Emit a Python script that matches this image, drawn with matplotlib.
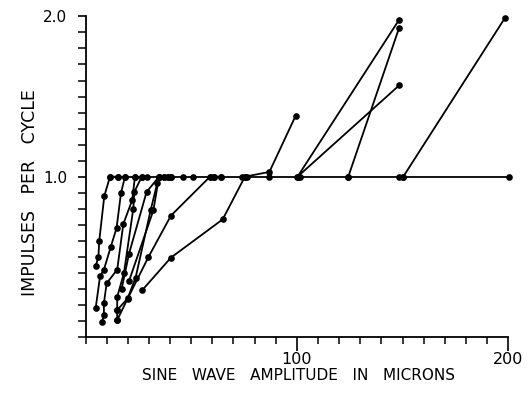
import matplotlib
matplotlib.use("Agg")
import matplotlib.pyplot as plt
from matplotlib.ticker import MultipleLocator, FixedLocator

# Each fibre series: amplitude (microns) and impulses per cycle
s1_x = [4.8, 6.1, 6.5, 8.9, 11.6, 15.2]
s1_y = [0.44, 0.50, 0.60, 0.88, 1.0, 1.0]
s2_x = [4.8, 6.9, 8.7, 11.9, 14.7, 16.8, 18.7]
s2_y = [0.18, 0.38, 0.42, 0.56, 0.68, 0.90, 1.0]
s3_x = [7.9, 8.7, 8.7, 10.0, 15.0, 17.9, 22.1, 23.4]
s3_y = [0.095, 0.14, 0.21, 0.335, 0.42, 0.705, 0.855, 1.0]
s4_x = [15.0, 15.0, 15.0, 18.2, 22.6, 23.1, 26.6]
s4_y = [0.106, 0.168, 0.25, 0.40, 0.80, 0.905, 1.0]
s5_x = [15.0, 19.9, 23.7, 30.8, 34.0, 37.3]
s5_y = [0.168, 0.24, 0.37, 0.79, 0.963, 1.0]
s6_x = [20.6, 32.1, 34.8, 39.2]
s6_y = [0.35, 0.79, 1.0, 1.0]
s7_x = [17.1, 20.6, 28.9, 34.8, 40.3]
s7_y = [0.30, 0.52, 0.905, 1.0, 1.0]
sa_x = [26.9, 40.4, 64.9, 75.4, 87.0, 99.4]
sa_y = [0.293, 0.495, 0.734, 1.0, 1.03, 1.38]
sb_x = [15.0, 20.0, 29.7, 40.4, 58.9, 60.9, 64.0]
sb_y = [0.106, 0.241, 0.497, 0.757, 1.0, 1.0, 1.0]
r2_x = [100.3, 148.4]
r2_y = [1.0, 1.98]
r3_x = [100.3, 148.4]
r3_y = [1.0, 1.57]
r4_x = [124.3, 148.4]
r4_y = [1.0, 1.93]
r5_x = [150.3, 198.4]
r5_y = [1.0, 1.99]
plateau_x = [11.6, 15.2, 18.7, 23.4, 26.6, 28.9, 34.8, 37.3, 39.2, 40.3, 46.2,
             51.0, 59.3, 60.9, 64.0, 73.9, 75.4, 76.5, 86.9, 99.9, 101.5,
             124.3, 148.2, 150.3, 200.3]
plateau_y = [1.0] * len(plateau_x)

series = [(s1_x, s1_y), (s2_x, s2_y), (s3_x, s3_y), (s4_x, s4_y),
          (s5_x, s5_y), (s6_x, s6_y), (s7_x, s7_y), (sa_x, sa_y),
          (sb_x, sb_y), (r2_x, r2_y), (r3_x, r3_y), (r4_x, r4_y),
          (r5_x, r5_y), (plateau_x, plateau_y)]

x_major = [100, 200]
y_major = [1.0, 2.0]
y_labels = ["1.0", "2.0"]

fig = plt.figure(figsize=(5.30, 3.96), dpi=100)
ax = fig.add_axes([85.5 / 530, 59 / 396, (508.3 - 85.5) / 530, (337 - 16.4) / 396])

for xs, ys in series:
    ax.plot(xs, ys, color="black", lw=1.3, marker="o", ms=4.8,
            markeredgewidth=0, clip_on=False)

ax.set_xlim(0, 200)
ax.set_ylim(0, 2.0)
for s in ["top", "right"]:
    ax.spines[s].set_visible(False)
ax.spines["left"].set_linewidth(1.3)
ax.spines["bottom"].set_linewidth(1.3)

ax.xaxis.set_major_locator(FixedLocator(x_major))
ax.xaxis.set_minor_locator(MultipleLocator(10))
ax.yaxis.set_major_locator(FixedLocator(y_major))
ax.set_yticklabels(y_labels)
ax.yaxis.set_minor_locator(MultipleLocator(0.1))
ax.tick_params(axis="x", which="major", length=10, width=1.2, pad=0.5, labelsize=11.5)
ax.tick_params(axis="x", which="minor", length=5, width=1.1)
ax.tick_params(axis="y", which="major", length=6, width=1.2, pad=7, labelsize=11)
ax.tick_params(axis="y", which="minor", length=6, width=1.1)

fig.text(299 / 530, 1 - 376 / 396, "SINE   WAVE   AMPLITUDE   IN   MICRONS",
         fontsize=11, ha="center", va="center")
fig.text(30.5 / 530, 1 - 193 / 396, "IMPULSES   PER   CYCLE",
         fontsize=12.5, ha="center", va="center", rotation=90)

fig.savefig("out.png", dpi=100)
